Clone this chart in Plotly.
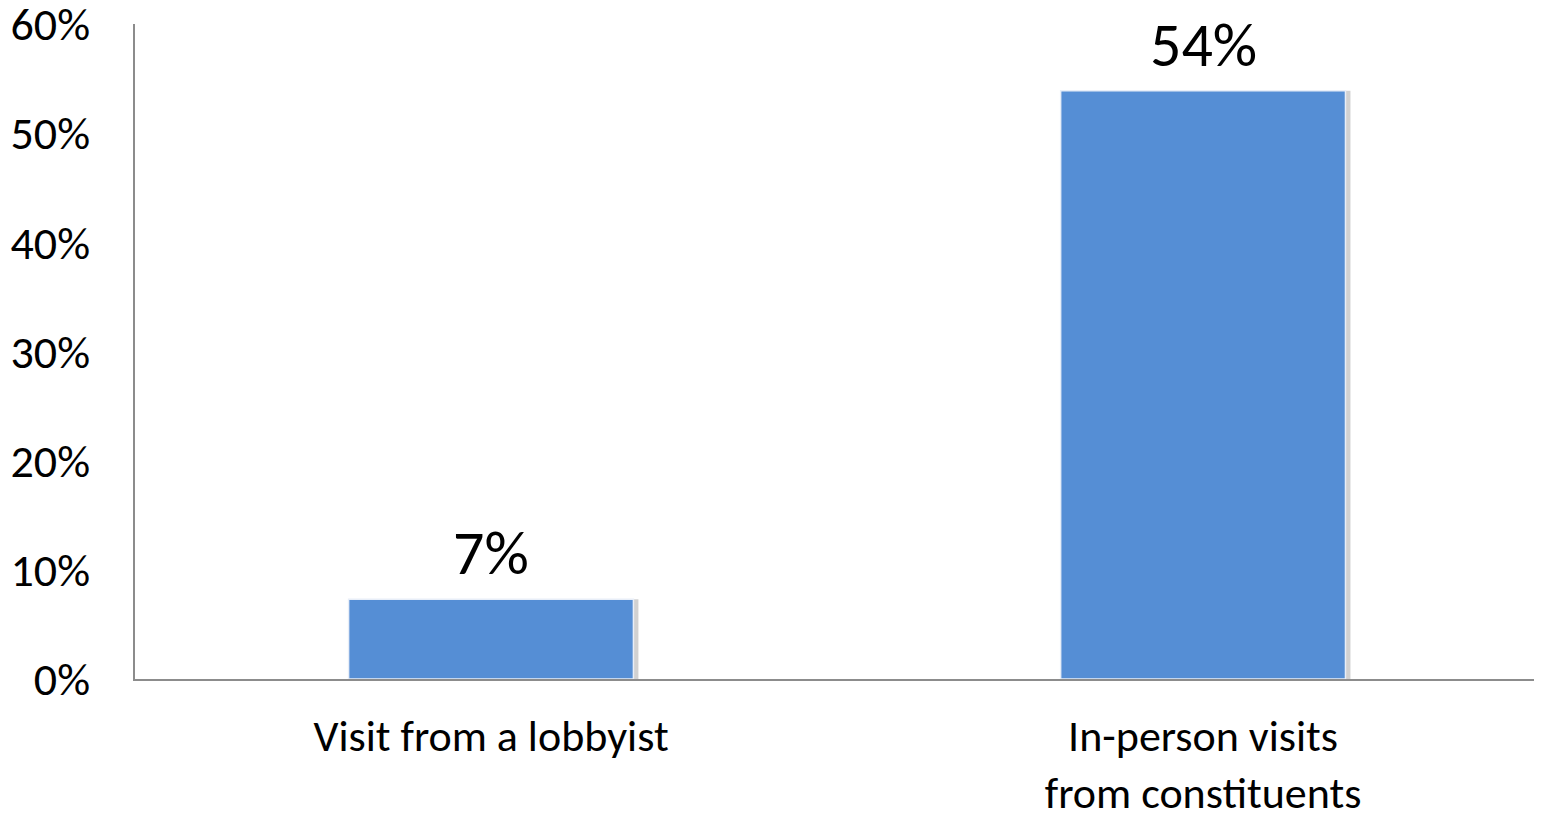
import plotly.graph_objects as go

categories = ["Visit from a lobbyist", "In-person visits<br>from constituents"]
values = [7.3, 53.9]
value_labels = ["7%", "54%"]
y_ticks = [0, 10, 20, 30, 40, 50, 60]
y_tick_labels = ["0%", "10%", "20%", "30%", "40%", "50%", "60%"]

FONT = "Carlito, Lato, sans-serif"
BAR = "#558ED5"

fig = go.Figure()
# soft shadow behind bars
fig.add_trace(go.Bar(
    x=categories, y=values, width=0.4, offset=-0.2 + 0.007,
    marker=dict(color="rgba(0,0,0,0.18)", line=dict(width=0)),
    hoverinfo="skip", showlegend=False,
))
fig.add_trace(go.Bar(
    x=categories, y=values, width=0.4, offset=-0.2,
    marker=dict(color=BAR, line=dict(color="#E8EEF8", width=1.5)),
    showlegend=False,
))

for c, v, t in zip(categories, values, value_labels):
    fig.add_annotation(x=c, y=v, text=t, showarrow=False, yanchor="bottom",
                       yshift=6, font=dict(family=FONT, size=62, color="#000"))

fig.update_layout(
    width=1534, height=807,
    margin=dict(l=127, r=0, t=16, b=136),
    plot_bgcolor="white", paper_bgcolor="white",
    barmode="overlay",
    font=dict(family=FONT, color="#000"),
    xaxis=dict(
        type="category", range=[-0.5, 1.476], automargin=False,
        showline=True, linecolor="#8C8C8C", linewidth=1.5,
        showgrid=False, ticks="", tickfont=dict(size=44, family=FONT),
        ticklabelstandoff=17, ticklabeloverflow="allow",
    ),
    yaxis=dict(
        range=[0, 60.02], tickvals=y_ticks, ticktext=y_tick_labels,
        automargin=False, ticklabeloverflow="allow",
        showline=True, linecolor="#8C8C8C", linewidth=1.5,
        showgrid=False, zeroline=False, ticks="",
        tickfont=dict(size=46, family=FONT), ticklabelstandoff=34,
    ),
)

fig.write_html("out.html")
